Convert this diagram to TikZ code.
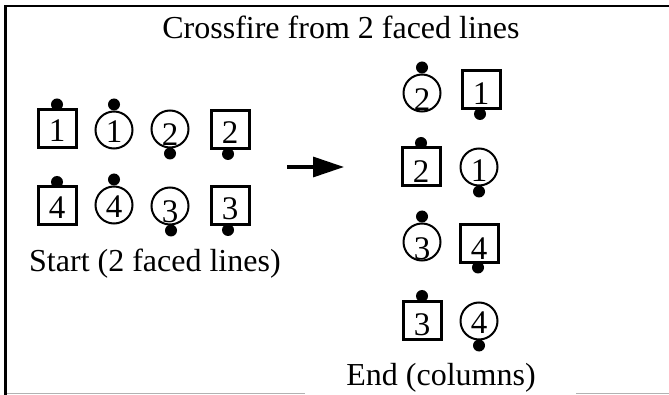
\documentclass[tikz,border=0pt]{standalone}
\usepackage{fontspec}
\setmainfont{Liberation Serif}
\usetikzlibrary{arrows.meta}
\tikzset{
  sq/.style={draw, line width=3pt, rectangle, minimum size=38pt, inner sep=0pt, outer sep=0pt},
  ci/.style={draw, line width=2pt, circle, minimum size=37pt, inner sep=0pt, outer sep=0pt},
  dot/.style={fill, circle, minimum size=12pt, inner sep=0pt},
  num/.style={inner sep=0pt, font=\fontsize{33}{39}\selectfont},
  lbl/.style={inner sep=0pt, font=\fontsize{32}{38}\selectfont},
}
\begin{document}
\begin{tikzpicture}[x=1pt,y=-1pt]
\useasboundingbox (0,0) rectangle (669,395);
% frame
\draw[line width=2.7pt] (5.7,395) -- (5.7,6) -- (669,6);
\draw[line width=1.5pt, black!30] (7,393.7) -- (305,393.7);
\draw[line width=1.5pt, black!30] (576,393.7) -- (669,393.7);
% title
\node[lbl, anchor=base] (title) at (341,38.5) {Crossfire from 2 faced lines};
% left group
\node[sq] (s1) at (57,128.5) {};
\node[ci] (c1) at (114,130) {};
\node[ci] (c2) at (170,129) {};
\node[sq] (s2) at (230,130) {};
\node[sq] (s4) at (57,206) {};
\node[ci] (c4) at (114,205) {};
\node[ci] (c3) at (170,206) {};
\node[sq] (s3) at (230,206) {};
\node[num] at (57,131) {1};
\node[num] at (114,132) {1};
\node[num] at (170,135) {2};
\node[num] at (230,133) {2};
\node[num] at (57,208) {4};
\node[num] at (114,207) {4};
\node[num] at (170,212) {3};
\node[num] at (230,209) {3};
\node[dot] at ([yshift=5pt]s1.north) {};
\node[dot] at ([yshift=7pt]c1.north) {};
\node[dot] at ([yshift=-6pt]c2.south) {};
\node[dot] at ([yshift=-5pt,xshift=-2pt]s2.south) {};
\node[dot] at ([yshift=5pt]s4.north) {};
\node[dot] at ([yshift=7pt]c4.north) {};
\node[dot] at ([yshift=-6pt,xshift=1pt]c3.south) {};
\node[dot] at ([yshift=-5pt,xshift=-2pt]s3.south) {};
\node[lbl, anchor=base west] (start) at (29,272) {Start (2 faced lines)};
% arrow
\coordinate (a0) at (287,167);
\coordinate (a1) at (344,167);
\draw[line width=3.3pt, -{Triangle[length=31pt,width=20pt]}] (a0) -- (a1);
% right group
\node[ci] (rc2) at (422,93) {};
\node[sq] (rs1) at (481,90) {};
\node[sq] (rs2) at (421,167) {};
\node[ci] (rc1) at (479,167) {};
\node[ci] (rc3) at (422,242) {};
\node[sq] (rs4) at (479,243.5) {};
\node[sq] (rs3) at (422,320) {};
\node[ci] (rc4) at (479,321) {};
\node[num] at (422,100) {2};
\node[num] at (481,94) {1};
\node[num] at (421,172) {2};
\node[num] at (479,171) {1};
\node[num] at (422,249) {3};
\node[num] at (479,249) {4};
\node[num] at (422,325) {3};
\node[num] at (479,323) {4};
\node[dot] at ([yshift=7pt]rc2.north) {};
\node[dot] at ([yshift=-5pt,xshift=-1pt]rs1.south) {};
\node[dot] at ([yshift=5pt]rs2.north) {};
\node[dot] at ([yshift=-6pt]rc1.south) {};
\node[dot] at ([yshift=7pt]rc3.north) {};
\node[dot] at ([yshift=-5pt,xshift=-1pt]rs4.south) {};
\node[dot] at ([yshift=5pt]rs3.north) {};
\node[dot] at ([yshift=-6pt]rc4.south) {};
\node[lbl, anchor=base] (end) at (441,385) {End (columns)};
\end{tikzpicture}
\end{document}
